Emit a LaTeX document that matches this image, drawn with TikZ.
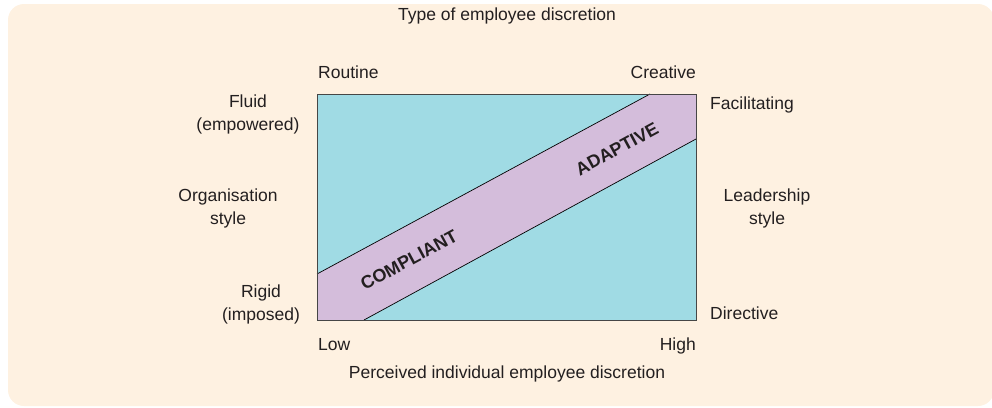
\documentclass[tikz,border=0pt]{standalone}
\usepackage{fontspec}
\setmainfont{Liberation Sans}
\usepackage{xcolor}
\usepackage{tikz}
\usetikzlibrary{positioning,calc}
\definecolor{mycream}{RGB}{254,241,225}
\definecolor{myteal}{RGB}{160,219,228}
\definecolor{mylilac}{RGB}{212,189,219}
\definecolor{mytext}{RGB}{35,31,32}
\definecolor{myedge}{RGB}{70,70,70}

\begin{document}
\begin{tikzpicture}[x=1pt, y=-1pt]
    \tikzstyle{lbl}=[inner sep=0pt, text=mytext, font=\fontsize{17.5}{23}\selectfont, align=center]
    \tikzstyle{zone}=[inner sep=0pt, text=mytext, font=\fontsize{18}{20}\selectfont\bfseries, rotate=28.5]
    \useasboundingbox (0,0) rectangle (992,407);
    \fill[mycream, rounded corners=16pt] (8,4) rectangle (994,406);
    % the grid and the band across it
    \node[fill=myteal, minimum width=379pt, minimum height=226pt, inner sep=0pt, anchor=north west] (grid) at (317,94) {};
    \coordinate (bandtl) at (317,274);
    \coordinate (bandtr) at (650,94);
    \coordinate (bandbr) at (696,139);
    \coordinate (bandbl) at (364,320);
    \fill[mylilac] (bandtl) -- (bandtr) -- (grid.north east) -- (bandbr) -- (bandbl) -- (grid.south west) -- cycle;
    \draw[black, line width=0.7pt] (bandtl) -- (bandtr);
    \draw[black, line width=0.7pt] (bandbl) -- (bandbr);
    \draw[myedge, line width=1pt] (grid.north west) rectangle (grid.south east);
    \node[zone] (compliant) at (409,260) {COMPLIANT};
    \node[zone] (adaptive) at (617,149) {ADAPTIVE};
    % axis texts
    \node[lbl, anchor=base] (title) at (507,20.5) {Type of employee discretion};
    \node[lbl, anchor=base west] (routine) at (318,78.5) {Routine};
    \node[lbl, anchor=base east] (creative) at (696,78.5) {Creative};
    \node[lbl, anchor=base west] (low) at (318,350) {Low};
    \node[lbl, anchor=base east] (high) at (696,350) {High};
    \node[lbl, anchor=base] (perceived) at (507,378.5) {Perceived individual employee discretion};
    \node[lbl] (fluid) at (248,114) {Fluid\\(empowered)};
    \node[lbl] (orgstyle) at (228,208) {Organisation\\style};
    \node[lbl] (rigid) at (261,304) {Rigid\\(imposed)};
    \node[lbl, anchor=base west] (facil) at (710,109.5) {Facilitating};
    \node[lbl] (leadstyle) at (767,208) {Leadership\\style};
    \node[lbl, anchor=base west] (directive) at (710,319.5) {Directive};
  \end{tikzpicture}
\end{document}
